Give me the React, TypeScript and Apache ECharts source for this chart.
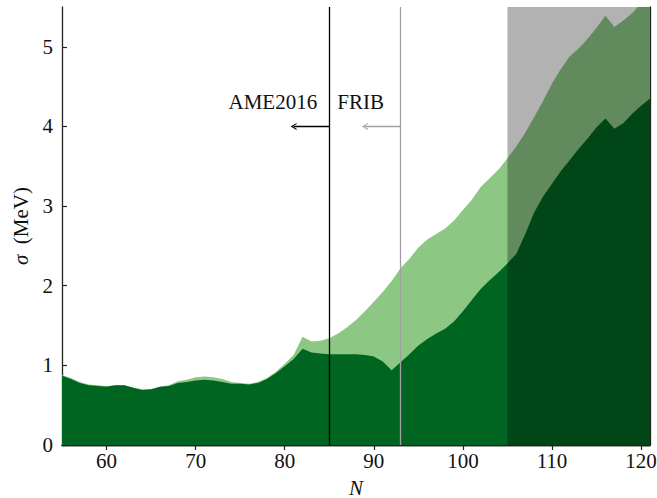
import React, { useEffect, useRef } from 'react';
import * as echarts from 'echarts';

const neutronNumbers = [
  55, 56, 57, 58, 59, 60, 61, 62, 63, 64,
  65, 66, 67, 68, 69, 70, 71, 72, 73, 74,
  75, 76, 77, 78, 79, 80, 81, 82, 83, 84,
  85, 86, 87, 88, 89, 90, 91, 92, 93, 94,
  95, 96, 97, 98, 99, 100, 101, 102, 103, 104,
  105, 106, 107, 108, 109, 110, 111, 112, 113, 114,
  115, 116, 117, 118, 119, 120, 121,
];

const sigmaUpper = [
  0.88, 0.84, 0.79, 0.76, 0.75, 0.74, 0.75, 0.75, 0.72, 0.70,
  0.70, 0.73, 0.75, 0.80, 0.82, 0.85, 0.86, 0.85, 0.83, 0.79,
  0.78, 0.77, 0.79, 0.84, 0.92, 1.02, 1.13, 1.36, 1.30, 1.31,
  1.34, 1.40, 1.48, 1.57, 1.68, 1.80, 1.92, 2.06, 2.22, 2.34,
  2.48, 2.58, 2.65, 2.72, 2.82, 2.95, 3.08, 3.24, 3.35, 3.46,
  3.60, 3.75, 3.92, 4.12, 4.32, 4.54, 4.72, 4.88, 4.98, 5.10,
  5.24, 5.39, 5.25, 5.33, 5.42, 5.55, 5.65,
];

const sigmaLower = [
  0.87, 0.83, 0.78, 0.75, 0.74, 0.73, 0.75, 0.75, 0.72, 0.69,
  0.70, 0.73, 0.74, 0.78, 0.79, 0.81, 0.82, 0.81, 0.79, 0.77,
  0.77, 0.76, 0.78, 0.83, 0.90, 0.99, 1.08, 1.21, 1.16, 1.15,
  1.14, 1.14, 1.14, 1.14, 1.13, 1.11, 1.05, 0.94, 1.04, 1.14,
  1.25, 1.33, 1.40, 1.46, 1.55, 1.68, 1.82, 1.96, 2.07, 2.17,
  2.28, 2.40, 2.65, 2.92, 3.12, 3.28, 3.44, 3.58, 3.72, 3.85,
  3.99, 4.10, 3.97, 4.04, 4.16, 4.26, 4.35,
];

const xTicks = [60, 70, 80, 90, 100, 110, 120];
const yTicks = [0, 1, 2, 3, 4, 5];
const xRange = [55, 121];
const yRange = [0, 5.5];
const shadeRange = [105, 121];
const ameLimit = 85;
const fribLimit = 93;
const arrowLevel = 4;
const arrowLength = 4;
const labelLevel = 4.31;

const FONT = '"Liberation Serif", "DejaVu Serif", serif';
const FS = 21;
const AXIS_COLOR = '#222';
const ARROW = 'path://M5,0 L10,10 L8.4,10 L5,3.6 L1.6,10 L0,10 Z';

export default function App() {
  const ref = useRef<HTMLDivElement>(null);

  useEffect(() => {
    document.body.style.margin = '0';
    if (!ref.current) return;
    const chart = echarts.init(ref.current, undefined, { renderer: 'svg' });

    const upper = neutronNumbers.map((n, i) => [n, sigmaUpper[i]]);
    const lower = neutronNumbers.map((n, i) => [n, sigmaLower[i]]);

    const baseX = {
      type: 'value',
      min: xRange[0],
      max: xRange[1],
      splitLine: { show: false },
      axisLine: { show: true, lineStyle: { color: AXIS_COLOR, width: 1.3 } },
      axisTick: { show: true, inside: true, length: 5, customValues: xTicks, lineStyle: { color: AXIS_COLOR, width: 1.2 } },
    };
    const baseY = {
      type: 'value',
      min: yRange[0],
      max: yRange[1],
      splitLine: { show: false },
      axisLine: { show: true, lineStyle: { color: AXIS_COLOR, width: 1.3 } },
      axisTick: { show: true, inside: true, length: 5, customValues: yTicks, lineStyle: { color: AXIS_COLOR, width: 1.2 } },
    };

    chart.setOption({
      animation: false,
      grid: { left: 62, right: 7, top: 7, bottom: 53, containLabel: false, outerBoundsMode: 'none' },
      xAxis: [
        {
          ...baseX,
          position: 'bottom',
          name: 'N',
          nameLocation: 'middle',
          nameGap: 32,
          nameTextStyle: { fontFamily: FONT, fontSize: FS, fontStyle: 'italic', color: '#111' },
          axisLabel: { show: true, customValues: xTicks, margin: 5, fontFamily: FONT, fontSize: FS, color: '#111' },
        },
        { ...baseX, position: 'top', axisLabel: { show: false } },
      ],
      yAxis: [
        {
          ...baseY,
          position: 'left',
          name: '{i|σ}  (MeV)',
          nameLocation: 'middle',
          nameRotate: 90,
          nameGap: 30,
          nameTextStyle: {
            fontFamily: FONT,
            fontSize: FS,
            color: '#111',
            rich: { i: { fontFamily: FONT, fontSize: FS, fontStyle: 'italic', color: '#111' } },
          },
          axisLabel: { show: true, customValues: yTicks, margin: 9, fontFamily: FONT, fontSize: FS, color: '#111' },
        },
        { ...baseY, position: 'right', axisLabel: { show: false } },
      ],
      series: [
        {
          type: 'line',
          data: upper,
          showSymbol: false,
          symbol: 'none',
          z: 2,
          lineStyle: { width: 0 },
          areaStyle: { color: '#8cc784', opacity: 1 },
          silent: true,
        },
        {
          type: 'line',
          data: lower,
          showSymbol: false,
          symbol: 'none',
          z: 3,
          lineStyle: { width: 0 },
          areaStyle: { color: '#006521', opacity: 1 },
          silent: true,
        },
        {
          type: 'line',
          data: [[shadeRange[0], 0]],
          showSymbol: false,
          symbol: 'none',
          z: 5,
          lineStyle: { width: 0 },
          silent: true,
          markArea: {
            z: 10,
            silent: true,
            itemStyle: { color: 'rgba(0,0,0,0.3)' },
            data: [[{ xAxis: shadeRange[0] }, { xAxis: shadeRange[1] }]],
          },
          markLine: {
            z: 11,
            silent: true,
            symbol: ['none', 'none'],
            label: { show: false },
            emphasis: { disabled: true },
            data: [
              { xAxis: ameLimit, lineStyle: { color: '#000', width: 1.3, type: 'solid' } },
              { xAxis: fribLimit, lineStyle: { color: '#a0a0a0', width: 1.3, type: 'solid' } },
              [
                { coord: [ameLimit, arrowLevel], symbol: 'none', lineStyle: { color: '#000', width: 1.3, type: 'solid' } },
                { coord: [ameLimit - arrowLength, arrowLevel], symbol: ARROW, symbolSize: [7, 6] },
              ],
              [
                { coord: [fribLimit, arrowLevel], symbol: 'none', lineStyle: { color: '#a0a0a0', width: 1.3, type: 'solid' } },
                { coord: [fribLimit - arrowLength, arrowLevel], symbol: ARROW, symbolSize: [7, 6] },
              ],
            ],
          },
          markPoint: {
            z: 12,
            silent: true,
            symbol: 'rect',
            symbolSize: 1,
            itemStyle: { color: 'rgba(0,0,0,0)' },
            data: [
              {
                coord: [83.7, labelLevel],
                label: { show: true, formatter: 'AME2016', position: 'left', distance: 0, fontFamily: FONT, fontSize: FS, color: '#111' },
              },
              {
                coord: [85.85, labelLevel],
                label: { show: true, formatter: 'FRIB', position: 'right', distance: 0, fontFamily: FONT, fontSize: FS, color: '#111' },
              },
            ],
          },
        },
      ],
    });

    return () => chart.dispose();
  }, []);

  return <div ref={ref} style={{ width: 657, height: 498 }} />;
}
